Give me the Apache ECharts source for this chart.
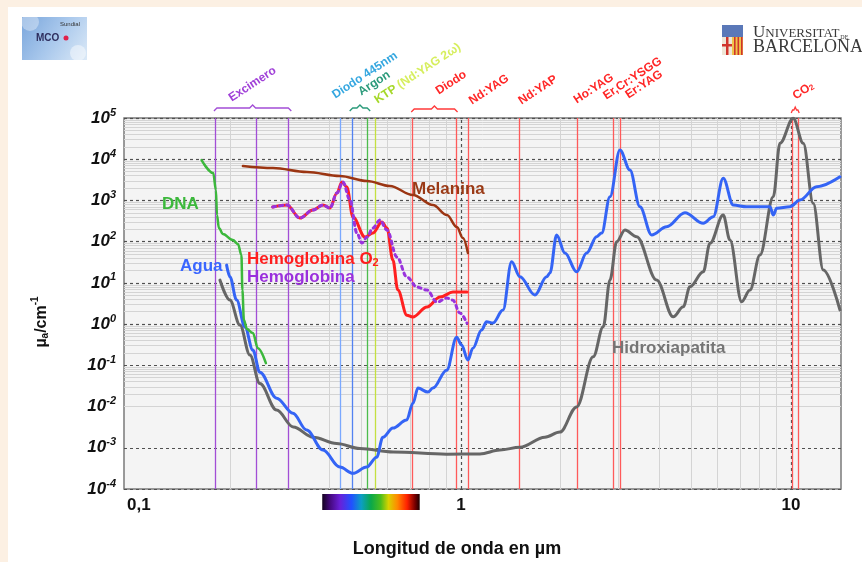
<!DOCTYPE html>
<html>
<head>
<meta charset="utf-8">
<script src="https://cdn.jsdelivr.net/npm/echarts@6.0.0/dist/echarts.min.js"></script>
<style>
html,body{margin:0;padding:0;background:#ffffff;}
#c{width:862px;height:562px;}
</style>
</head>
<body>
<div id="c"></div>
<script>
// ---------------- data ----------------
const xMin = 0.0953, xMax = 14.18;          // wavelength range, µm
const yMin = 1e-4, yMax = 1e5;              // absorption coefficient, cm^-1
const xTickValues = [0.1, 1, 10];
const xTickLabels = ['0,1', '1', '10'];

// [wavelength µm, µa cm^-1]
const dnaData = [[0.1637,9570],[0.1776,4620],[0.1810,1788],[0.1823,442],[0.1848,214],[0.1901,153],[0.2037,109],[0.2111,87.5],[0.2162,47.3],[0.2177,6.7],[0.2200,1.25],[0.2246,0.757],[0.2342,0.605],[0.2426,0.261],[0.2565,0.113]];

const aguaData = [[0.195,27],[0.1995,14.1],[0.2091,3.83],[0.2216,0.85],[0.2342,0.234],[0.2459,0.068],[0.2764,0.016],[0.3097,0.0069],[0.3406,0.0027],[0.3818,0.00088],[0.4298,0.00034],[0.4707,0.00024],[0.5181,0.00034],[0.5553,0.00059],[0.5803,0.0018],[0.6222,0.003],[0.6846,0.0047],[0.7154,0.012],[0.7408,0.028],[0.7943,0.0224],[0.8226,0.028],[0.9052,0.076],[0.9705,0.48],[1.0049,0.31],[1.05,0.134],[1.087,0.26],[1.155,0.72],[1.196,1.14],[1.25,1.06],[1.341,2.19],[1.424,32.5],[1.509,14.1],[1.676,5.06],[1.818,14.1],[1.861,17.3],[1.95,145],[2.066,52.9],[2.242,18.6],[2.404,52.9],[2.577,132],[2.67,162],[2.829,1230],[3.032,16700],[3.252,5470],[3.486,703],[3.784,145],[4.201,230],[4.773,503],[5.424,278],[5.815,402],[6.234,3440],[6.687,773],[7.341,703],[8.638,703],[8.84,442],[9.051,643],[9.931,703],[10.65,1023],[11.96,2150],[14.08,3760]];

const hidroxiapatitaData = [[0.1861,11.7],[0.1995,3.83],[0.214,0.95],[0.2294,0.177],[0.2459,0.036],[0.2764,0.0082],[0.3103,0.0032],[0.3568,0.0018],[0.4201,0.00127],[0.4942,0.00096],[0.6235,0.00079],[0.9052,0.0007],[1.142,0.00071],[1.313,0.00088],[1.509,0.00103],[1.797,0.0018],[1.995,0.0024],[2.242,0.0098],[2.517,0.161],[2.699,0.86],[2.829,11.7],[2.964,99.5],[3.141,191],[3.408,132],[3.917,11.7],[4.399,1.5],[4.717,2.63],[4.943,8.04],[5.424,18.6],[5.683,91],[6.234,442],[6.535,109],[7.089,3.48],[7.512,6.68],[8.054,47.3],[8.84,1230],[9.262,24300],[10.16,98300],[10.9,24300],[11.68,851],[12.53,20.5],[14.08,2.19]];

const melaninaData = [[0.2185,6840],[0.2694,6110],[0.3415,4890],[0.4298,3910],[0.5191,2958],[0.609,2237],[0.7154,1352],[0.8226,773],[0.9071,442],[0.9725,226],[1.014,122],[1.05,53]];

const hbO2Data = [[0.269,692],[0.297,773],[0.325,374],[0.356,585],[0.382,773],[0.401,654],[0.421,1514],[0.436,2800],[0.451,2113],[0.471,395],[0.512,129],[0.541,162],[0.576,299],[0.597,214],[0.622,35.7],[0.644,6.7],[0.686,1.65],[0.715,1.48],[0.789,2.59],[0.864,4.52],[0.946,5.98],[1.043,5.98]];

const hbData = [[0.269,692],[0.297,773],[0.325,374],[0.356,585],[0.382,773],[0.401,654],[0.421,1514],[0.439,2800],[0.461,1023],[0.484,162],[0.501,92.5],[0.519,129],[0.541,214],[0.568,334],[0.597,191],[0.640,42.3],[0.686,13.8],[0.736,7.9],[0.789,6.7],[0.846,3.4],[0.907,4.3],[0.946,3.8],[0.993,1.85],[1.043,1.06]];

// laser emission lines (µm, as placed in the picture)
const laserWavelengths = [0.181, 0.238, 0.302, 0.432, 0.470, 0.520, 0.549, 0.712, 0.970, 1.055, 1.499, 2.251, 2.902, 3.032, 10.09, 10.52];
const laserLabelTexts = ['Excimero', 'Diodo 445nm', 'Argon', 'KTP (Nd:YAG 2ω)', 'Diodo', 'Nd:YAG', 'Nd:YAP', 'Ho:YAG', 'Er,Cr:YSGG', 'Er:YAG', 'CO2'];
const curveLabelTexts = ['DNA', 'Agua', 'Hemoglobina O2', 'Hemoglobina', 'Melanina', 'Hidroxiapatita'];
const visibleBand = [0.38, 0.75];

// ---------------- styles / layout ----------------
const FONT = "'Liberation Sans', Arial, Helvetica, sans-serif";
const SERIF = "'Liberation Serif', 'DejaVu Serif', serif";
const laserColors = ['#a24ed6','#a24ed6','#a24ed6','#7aa8ff','#5282f2','#4cbc4c','#c4e040','#ff5a5a','#ff5a5a','#ff5a5a','#ff5a5a','#ff5a5a','#ff5a5a','#ff5a5a','#ff5a5a','#ff5a5a'];
const laserLabelLayout = [
  {line:1,  dx:-22, y:104, colors:['#a040d8']},
  {line:3,  dx:-4,  y:101, colors:['#35a7e0']},
  {line:4,  dx:10,  y:98,  colors:['#2a9a7a']},
  {line:6,  dx:4,   y:106, colors:['#a6d82a','#d6ee5c']},
  {line:7,  dx:28,  y:97,  colors:['#ff2626']},
  {line:9,  dx:5,   y:107, colors:['#ff2626']},
  {line:10, dx:4,   y:107, colors:['#ff2626']},
  {line:11, dx:1,   y:106, colors:['#ff2626']},
  {line:12, dx:-6,  y:102, colors:['#ff2626']},
  {line:13, dx:10,  y:101, colors:['#ff2626']},
  {line:14, dx:5,   y:102, colors:['#ff2626']}
];
const braces = [
  {from:0, to:2, pad:2, y:108, color:'#a24ed6'},
  {from:4, to:5, pad:3, y:108, color:'#2a9a7a'},
  {from:7, to:8, pad:1, y:109, color:'#ff3a3a'},
  {from:14, to:15, pad:1, y:110, color:'#ff3a3a'}
];
const curveLabelLayout = [
  {x:162, y:202, color:'#3cb83c'},
  {x:180, y:264, color:'#3a66ff'},
  {x:247, y:257, color:'#ff1e1e'},
  {x:247, y:275, color:'#9a30dc'},
  {x:412, y:187, color:'#9a3a16'},
  {x:612, y:346, color:'#757575'}
];

// minor log grid positions
const minorY = [];
for (let e = -4; e < 5; e++) for (let k = 2; k <= 9; k++) minorY.push(k * Math.pow(10, e));
const minorX = [];
for (let e = -1; e < 2; e++) for (let k = 2; k <= 9; k++) { const v = k * Math.pow(10, e); if (v > xMin && v < xMax) minorX.push(v); }

function curve(name, data, color, width, type, z) {
  return {
    name, type: 'line', data, symbol: 'none', smooth: 0.35, smoothMonotone: 'x',
    lineStyle: { color, width, type, cap: 'round', join: 'round' },
    z, silent: true, clip: true
  };
}

const option = {
  animation: false,
  backgroundColor: '#ffffff',
  grid: { left: 124, top: 118, right: 21, bottom: 73, show: true, backgroundColor: '#f4f4f4', borderColor: '#7a7a7a', borderWidth: 1.5, containLabel: false, outerBoundsMode: 'none' },
  xAxis: {
    type: 'log', logBase: 10, min: xMin, max: xMax,
    axisLine: { show: false }, axisTick: { show: false }, splitLine: { show: false },
    axisLabel: {
      margin: 8, fontSize: 17, fontWeight: 'bold', color: '#111', fontFamily: FONT,
      formatter: function (v) {
        for (let i = 0; i < xTickValues.length; i++) {
          if (Math.abs(Math.log10(v) - Math.log10(xTickValues[i])) < 1e-6) return i === 0 ? '{f|' + xTickLabels[i] + '}' : xTickLabels[i];
        }
        return '';
      },
      rich: { f: { padding: [0, 0, 0, 16], fontSize: 17, fontWeight: 'bold', color: '#111', fontFamily: FONT } }
    }
  },
  yAxis: {
    type: 'log', logBase: 10, min: yMin, max: yMax,
    axisLine: { show: false }, axisTick: { show: false },
    splitLine: { show: true, lineStyle: { color: '#505050', width: 1.2, type: [3, 3] } },
    axisLabel: {
      margin: 8,
      formatter: function (v) { return '{b|10}{s|' + Math.round(Math.log10(v)) + '}'; },
      rich: {
        b: { fontSize: 17, fontWeight: 'bold', fontStyle: 'italic', color: '#111', lineHeight: 22, verticalAlign: 'middle', fontFamily: FONT },
        s: { fontSize: 11, fontWeight: 'bold', fontStyle: 'italic', color: '#111', lineHeight: 11, verticalAlign: 'top', fontFamily: FONT }
      }
    }
  },
  series: [
    {
      name: 'grid', type: 'line', data: [], silent: true, z: 1,
      markLine: {
        silent: true, z: 1, symbol: ['none', 'none'], animation: false, label: { show: false },
        lineStyle: { color: '#d4d4d4', width: 1, type: 'solid' },
        emphasis: { disabled: true },
        data: minorY.map(v => ({ yAxis: v })).concat(minorX.map(v => ({ xAxis: v })))
          .concat([1, 10].map(v => ({ xAxis: v, lineStyle: { color: '#505050', width: 1.2, type: [3, 3] } })))
      }
    },
    {
      name: 'lasers', type: 'line', data: [], silent: true, z: 2,
      markLine: {
        silent: true, z: 2, symbol: ['none', 'none'], animation: false, label: { show: false },
        emphasis: { disabled: true },
        data: laserWavelengths.map((v, i) => ({ xAxis: v, lineStyle: { color: laserColors[i], width: 1.3, type: 'solid' } }))
      }
    },
    curve('Hidroxiapatita', hidroxiapatitaData, '#666666', 3, 'solid', 3),
    curve('Agua', aguaData, '#3464f5', 3, 'solid', 4),
    curve('DNA', dnaData, '#3cb83c', 2.5, 'solid', 5),
    curve('Melanina', melaninaData, '#9b3512', 2.5, 'solid', 5),
    curve('Hemoglobina O2', hbO2Data, '#ff2020', 3, 'solid', 6),
    curve('Hemoglobina', hbData, '#9933dd', 3, [3, 4], 7)
  ]
};

const chart = echarts.init(document.getElementById('c'), null, { renderer: 'canvas' });
chart.setOption(option);

function buildGraphic() {
  const px = v => chart.convertToPixel({ xAxisIndex: 0 }, v);
  const els = [];
  const Z = 50;
  // peach page edges
  els.push({ type: 'rect', z: Z, silent: true, shape: { x: 0, y: 0, width: 862, height: 7 }, style: { fill: '#fcf0e3' } });
  els.push({ type: 'rect', z: Z, silent: true, shape: { x: 0, y: 0, width: 8, height: 562 }, style: { fill: '#fcf0e3' } });

  // MCO logo (top-left)
  els.push({ type: 'rect', z: Z, silent: true, shape: { x: 22, y: 17, width: 65, height: 43 },
    style: { fill: { type: 'linear', x: 0, y: 0, x2: 1, y2: 1, colorStops: [{ offset: 0, color: '#7aa6dc' }, { offset: 0.5, color: '#a9c8ec' }, { offset: 1, color: '#dbe9f7' }] } } });
  els.push({ type: 'circle', z: Z, silent: true, shape: { cx: 30, cy: 22, r: 9 }, style: { fill: 'rgba(255,255,255,0.35)' } });
  els.push({ type: 'circle', z: Z, silent: true, shape: { cx: 78, cy: 53, r: 8 }, style: { fill: 'rgba(255,255,255,0.45)' } });
  els.push({ type: 'text', z: Z + 1, silent: true, x: 36, y: 38, style: { text: 'MCO', fill: '#2e2e5e', fontSize: 10, fontWeight: 'bold', fontFamily: FONT, align: 'left', verticalAlign: 'middle' } });
  els.push({ type: 'circle', z: Z + 1, silent: true, shape: { cx: 66, cy: 38, r: 2.5 }, style: { fill: '#e0204a' } });
  els.push({ type: 'text', z: Z + 1, silent: true, x: 80, y: 24, style: { text: 'Sundial', fill: '#333', fontSize: 6, fontFamily: FONT, align: 'right', verticalAlign: 'middle' } });

  // Universitat de Barcelona logo (top-right)
  els.push({ type: 'rect', z: Z, silent: true, shape: { x: 722, y: 25, width: 21, height: 12 }, style: { fill: '#5a78b8' } });
  els.push({ type: 'rect', z: Z, silent: true, shape: { x: 722, y: 37, width: 10, height: 18 }, style: { fill: '#eee6d6' } });
  els.push({ type: 'rect', z: Z, silent: true, shape: { x: 726, y: 37, width: 2.5, height: 18 }, style: { fill: '#d0342c' } });
  els.push({ type: 'rect', z: Z, silent: true, shape: { x: 722, y: 44, width: 10, height: 2.5 }, style: { fill: '#d0342c' } });
  els.push({ type: 'rect', z: Z, silent: true, shape: { x: 732, y: 37, width: 11, height: 18 }, style: { fill: '#efc44a' } });
  [734, 737.5, 741].forEach(sx => els.push({ type: 'rect', z: Z, silent: true, shape: { x: sx, y: 37, width: 1.6, height: 18 }, style: { fill: '#d0342c' } }));
  els.push({ type: 'text', z: Z, silent: true, x: 753, y: 33, style: { text: '{u|U}{n|NIVERSITAT}{d|DE}', align: 'left', verticalAlign: 'middle',
    rich: { u: { fontSize: 17, fontFamily: SERIF, fill: '#3a3a3a', verticalAlign: 'bottom', lineHeight: 17 },
            n: { fontSize: 13, fontFamily: SERIF, fill: '#3a3a3a', verticalAlign: 'bottom', lineHeight: 13, padding: [0, 0, 1, 0] },
            d: { fontSize: 6, fontFamily: SERIF, fill: '#3a3a3a', verticalAlign: 'bottom', lineHeight: 6, padding: [0, 0, 1, 1] } } } });
  els.push({ type: 'text', z: Z, silent: true, x: 753, y: 47, style: { text: 'BARCELONA', fontSize: 18, fontFamily: SERIF, fill: '#3a3a3a', align: 'left', verticalAlign: 'middle' } });

  // laser labels (rotated) above the plot
  laserLabelLayout.forEach((L, i) => {
    const t = laserLabelTexts[i];
    let text;
    const rich = {
      t: { fontSize: 12, fontWeight: 'bold', fontFamily: FONT, fill: L.colors[0], verticalAlign: 'bottom', lineHeight: 15 },
      k: { fontSize: 12, fontWeight: 'bold', fontFamily: FONT, fill: L.colors[0], verticalAlign: 'bottom', lineHeight: 15 },
      s: { fontSize: 8, fontWeight: 'bold', fontFamily: FONT, fill: L.colors[0], verticalAlign: 'bottom', lineHeight: 9 }
    };
    if (t.indexOf('KTP') === 0) {
      rich.t.fill = L.colors[1];
      text = '{k|KTP }{t|' + t.slice(4) + '}';
    } else if (t === 'CO2') {
      text = '{t|CO}{s|2}';
    } else {
      text = '{t|' + t + '}';
    }
    els.push({ type: 'text', z: Z, silent: true, x: px(laserWavelengths[L.line]) + L.dx, y: L.y, rotation: 0.58,
      style: { text, align: 'left', verticalAlign: 'bottom', rich } });
  });

  // braces
  braces.forEach(B => {
    const x1 = px(laserWavelengths[B.from]) - B.pad, x2 = px(laserWavelengths[B.to]) + B.pad, cx = (x1 + x2) / 2, y = B.y;
    const r = Math.min(3, (x2 - x1) / 6);
    els.push({ type: 'polyline', z: Z, silent: true,
      shape: { points: [[x1, y + 3], [x1 + r, y], [cx - r, y], [cx, y - 3], [cx + r, y], [x2 - r, y], [x2, y + 3]] },
      style: { stroke: B.color, lineWidth: 1.3, fill: null } });
  });

  // curve labels inside the plot
  curveLabelLayout.forEach((L, i) => {
    const t = curveLabelTexts[i];
    let text = '{a|' + t + '}';
    if (/O2$/.test(t)) text = '{a|' + t.slice(0, -1) + '}{s|2}';
    els.push({ type: 'text', z: Z + 5, silent: true, x: L.x, y: L.y,
      style: { text, align: 'left', verticalAlign: 'middle',
        rich: { a: { fontSize: 17, fontWeight: 'bold', fontFamily: FONT, fill: L.color, lineHeight: 22, verticalAlign: 'bottom' },
                s: { fontSize: 11, fontWeight: 'bold', fontFamily: FONT, fill: L.color, lineHeight: 11, verticalAlign: 'bottom' } } } });
  });

  // visible spectrum bar
  const bx1 = px(visibleBand[0]), bx2 = px(visibleBand[1]);
  els.push({ type: 'rect', z: Z, silent: true, shape: { x: bx1, y: 494, width: bx2 - bx1, height: 16 },
    style: { fill: { type: 'linear', x: 0, y: 0, x2: 1, y2: 0, colorStops: [
      { offset: 0, color: '#14031f' }, { offset: 0.08, color: '#45097e' }, { offset: 0.18, color: '#6a1fd8' },
      { offset: 0.30, color: '#2150ff' }, { offset: 0.40, color: '#0c9ec4' }, { offset: 0.50, color: '#0aa84a' },
      { offset: 0.60, color: '#4cbd1c' }, { offset: 0.68, color: '#d8d200' }, { offset: 0.77, color: '#ff8a00' },
      { offset: 0.87, color: '#ff2200' }, { offset: 0.95, color: '#7a0000' }, { offset: 1, color: '#1a0000' }] } } });

  // axis titles
  els.push({ type: 'text', z: Z, silent: true, x: 457, y: 549, style: { text: 'Longitud de onda en µm', fontSize: 18, fontWeight: 'bold', fontFamily: FONT, fill: '#111', align: 'center', verticalAlign: 'middle' } });
  els.push({ type: 'text', z: Z, silent: true, x: 40, y: 322, rotation: Math.PI / 2,
    style: { text: '{m|µ}{sub|a}{m|/cm}{sup|-1}', align: 'center', verticalAlign: 'middle',
      rich: { m: { fontSize: 16, fontWeight: 'bold', fontFamily: FONT, fill: '#111', lineHeight: 20, verticalAlign: 'bottom' },
              sub: { fontSize: 10, fontWeight: 'bold', fontFamily: FONT, fill: '#111', lineHeight: 10, verticalAlign: 'bottom' },
              sup: { fontSize: 10, fontWeight: 'bold', fontFamily: FONT, fill: '#111', lineHeight: 10, verticalAlign: 'top' } } } });
  return els;
}

chart.setOption({ graphic: { elements: buildGraphic() } });
</script>
</body>
</html>
